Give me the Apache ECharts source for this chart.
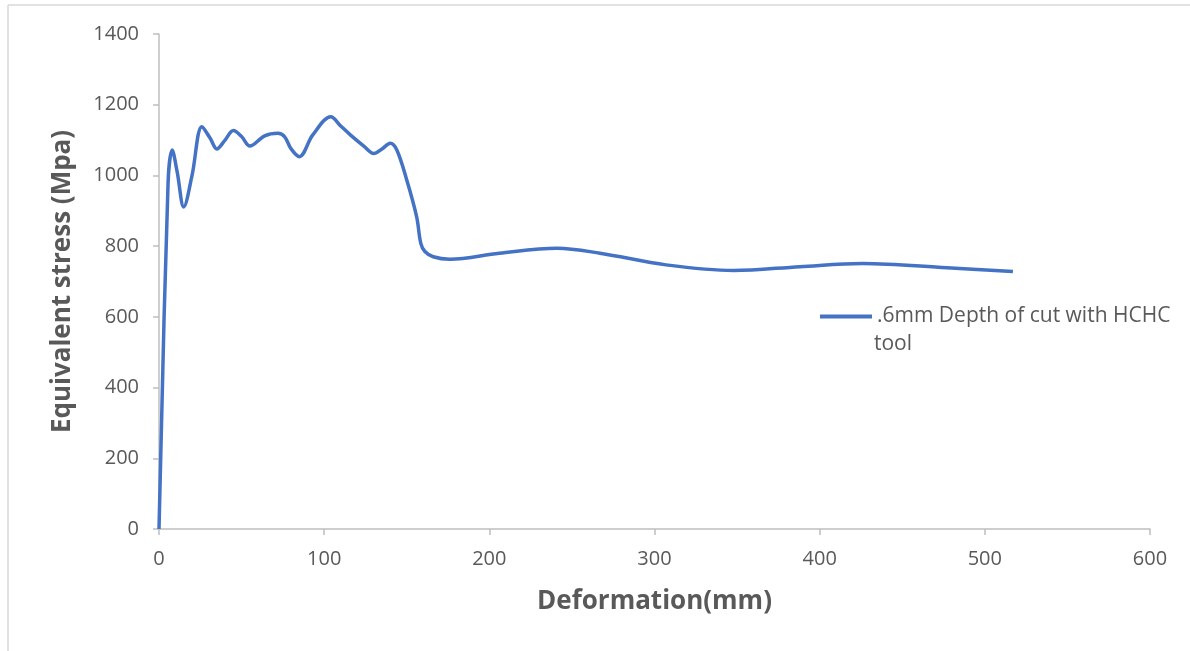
<!DOCTYPE html>
<html>
<head>
<meta charset="utf-8">
<script src="https://cdn.jsdelivr.net/npm/echarts@6/dist/echarts.min.js"></script>
<style>
html,body{margin:0;padding:0;background:#fff;}
#chart{width:1190px;height:651px;}
</style>
</head>
<body>
<div id="chart"></div>
<script>
const seriesName = '.6mm Depth of cut with HCHC';
const legendSecondLine = 'tool';
const xTitle = 'Deformation(mm)';
const yTitle = 'Equivalent stress (Mpa)';
const deformation = [0, 5.5, 8, 11, 15, 20, 26, 31, 35, 40, 45, 50, 55, 64, 72, 76, 80, 85, 93, 104, 110, 116, 124, 130, 135, 140, 144, 150, 156, 158.5, 161, 166, 176, 206, 241, 267, 307, 348, 388, 426, 477, 517];
const stress =      [0, 980, 1072, 1010, 911, 1000, 1138, 1105, 1075, 1100, 1127, 1110, 1083, 1112, 1119, 1110, 1075, 1053, 1114, 1166, 1140, 1114, 1083, 1062, 1075, 1091, 1072, 987, 883, 808, 785, 770, 763, 780, 794, 780, 747, 731, 742, 751, 739, 728];

const chart = echarts.init(document.getElementById('chart'));
const data = deformation.map((x, i) => [x, stress[i]]);
const gray = '#595959';
chart.setOption({
  animation: false,
  backgroundColor: '#fff',
  grid: {left: 159, right: 40, top: 34, bottom: 122, containLabel: false},
  xAxis: {
    type: 'value', min: 0, max: 600, interval: 100,
    name: xTitle, nameLocation: 'middle', nameGap: 60,
    nameTextStyle: {fontFamily: 'Open Sans', fontWeight: 'bold', fontSize: 26, color: gray},
    axisLine: {show: true, lineStyle: {color: '#bfbfbf', width: 1.5}},
    axisTick: {show: true, length: 6, lineStyle: {color: '#bfbfbf', width: 1.5}},
    axisLabel: {fontFamily: 'Open Sans', fontSize: 20, color: gray, margin: 20, formatter: v => String(v)},
    splitLine: {show: false}
  },
  yAxis: {
    type: 'value', min: 0, max: 1400, interval: 200,
    name: yTitle, nameLocation: 'middle', nameGap: 83, nameRotate: 90,
    nameTextStyle: {fontFamily: 'Open Sans', fontWeight: 'bold', fontSize: 26, color: gray},
    axisLine: {show: true, lineStyle: {color: '#bfbfbf', width: 1.5}},
    axisTick: {show: true, length: 6, lineStyle: {color: '#bfbfbf', width: 1.5}},
    axisLabel: {fontFamily: 'Open Sans', fontSize: 20, color: gray, margin: 20, formatter: v => String(v)},
    splitLine: {show: false}
  },
  legend: {
    left: 815, top: 301, orient: 'vertical',
    itemWidth: 52, itemHeight: 4, itemGap: 6,
    icon: 'rect',
    textStyle: {fontFamily: 'Open Sans', fontSize: 21, color: gray},
    data: [{name: seriesName, icon: 'rect'}]
  },
  graphic: [
    {type: 'text', left: 874, top: 334, style: {text: legendSecondLine, fontFamily: 'Open Sans', fontSize: 21, fill: gray}},
    {type: 'line', shape: {x1: 8, y1: 5, x2: 1190, y2: 5}, style: {stroke: '#d9d9d9', lineWidth: 1.5}},
    {type: 'line', shape: {x1: 8, y1: 5, x2: 8, y2: 651}, style: {stroke: '#d9d9d9', lineWidth: 1.5}}
  ],
  series: [{
    name: seriesName, type: 'line', data: data,
    smooth: 0.35, symbol: 'none',
    lineStyle: {color: '#4472C4', width: 3.5},
    itemStyle: {color: '#4472C4'}
  }]
});
</script>
</body>
</html>
